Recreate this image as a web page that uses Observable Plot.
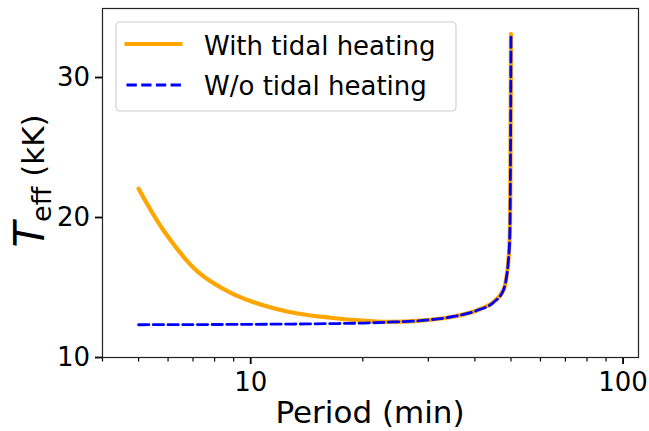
<!DOCTYPE html>
<html>
<head>
<meta charset="utf-8">
<script src="https://cdn.jsdelivr.net/npm/d3@7"></script>
<script src="https://cdn.jsdelivr.net/npm/@observablehq/plot@0.6"></script>
<style>
  html, body { margin: 0; padding: 0; background: white; }
  #chart { width: 649px; height: 431px; }
</style>
</head>
<body>
<div id="chart"></div>
<script>
// Period (min) and effective temperature (kK)
const periodWith = [5.0, 5.86, 7.19, 8.84, 10.86, 13.35, 16.39, 19.5, 23.3, 28.6, 35.1, 40.5, 44.9, 47.7, 48.6, 49.2, 49.6, 49.8, 49.9, 50.0];
const teffWith   = [22.05, 19.0, 16.15, 14.62, 13.71, 13.14, 12.84, 12.66, 12.55, 12.64, 12.93, 13.36, 13.95, 14.8, 15.7, 16.9, 18.5, 22.0, 27.0, 33.1];
const periodWithout = [5.0, 7.0, 10.0, 13.0, 16.4, 20.0, 23.3, 28.6, 35.1, 40.5, 44.9, 47.7, 48.6, 49.2, 49.6, 49.8, 49.9, 50.0];
const teffWithout   = [12.34, 12.35, 12.37, 12.39, 12.42, 12.46, 12.52, 12.64, 12.93, 13.36, 13.95, 14.8, 15.7, 16.9, 18.5, 22.0, 27.0, 33.1];
const seriesNames = ["With tidal heating", "W/o tidal heating"];
const xMajorTicks = [10, 100];
const xMinorTicks = [4, 5, 6, 7, 8, 9, 20, 30, 40, 50, 60, 70, 80, 90];
const yTicks = [10, 20, 30];

const withData = periodWith.map((p, i) => ({p, t: teffWith[i]}));
const withoutData = periodWithout.map((p, i) => ({p, t: teffWithout[i]}));

const chart = Plot.plot({
  width: 649,
  height: 431,
  marginLeft: 102,
  marginRight: 11,
  marginTop: 8,
  marginBottom: 74,
  style: {fontFamily: "DejaVu Sans", fontSize: "26px", color: "black", background: "white", overflow: "visible"},
  x: {type: "log", domain: [4, 110]},
  y: {domain: [10, 34.93]},
  marks: [
    Plot.axisX({ticks: xMinorTicks, tickSize: 4.5, tickFormat: () => "", strokeWidth: 1.2, label: null}),
    Plot.axisX({ticks: xMajorTicks, tickSize: 7, tickPadding: 8, strokeWidth: 1.8, tickFormat: d => String(d), label: null, fontSize: 26}),
    Plot.axisY({ticks: yTicks, tickSize: 7, tickPadding: 5.5, strokeWidth: 1.8, label: null, fontSize: 26}),
    Plot.line(withData, {x: "p", y: "t", stroke: "orange", strokeWidth: 4.2, curve: "catmull-rom"}),
    Plot.line(withoutData, {x: "p", y: "t", stroke: "blue", strokeWidth: 2.8, strokeDasharray: "10.3,4.4", curve: "monotone-x"}),
    Plot.frame({stroke: "#222", strokeWidth: 1.2})
  ]
});
document.getElementById("chart").appendChild(chart);

const svg = d3.select(chart);
// x label
svg.append("text")
  .attr("x", 370).attr("y", 423)
  .attr("text-anchor", "middle")
  .attr("font-family", "DejaVu Sans").attr("font-size", 31).attr("fill", "black")
  .text("Period (min)");
// y label
const yl = svg.append("text")
  .attr("transform", "translate(44,181) rotate(-90)")
  .attr("text-anchor", "middle")
  .attr("font-family", "DejaVu Sans").attr("font-size", 31).attr("fill", "black");
yl.append("tspan").attr("font-style", "italic").attr("font-size", 42).text("T");
yl.append("tspan").attr("font-size", 27).attr("dy", 7).text("eff");
yl.append("tspan").attr("dy", -7).text("\u00a0(kK)");

// legend
const lg = svg.append("g").attr("text-anchor", "start");
lg.append("rect").attr("x", 116).attr("y", 22).attr("width", 340).attr("height", 89).attr("rx", 4)
  .attr("fill", "white").attr("fill-opacity", 0.8).attr("stroke", "#cccccc").attr("stroke-width", 1.1);
lg.append("line").attr("x1", 124.5).attr("x2", 182.5).attr("y1", 44).attr("y2", 44)
  .attr("stroke", "orange").attr("stroke-width", 4.2);
lg.append("line").attr("x1", 126.5).attr("x2", 181).attr("y1", 85).attr("y2", 85)
  .attr("stroke", "blue").attr("stroke-width", 2.8).attr("stroke-dasharray", "10.3,4.4");
lg.append("text").attr("x", 204).attr("y", 55).attr("text-anchor", "start").attr("font-family", "DejaVu Sans").attr("font-size", 26).attr("fill", "black").text(seriesNames[0]);
lg.append("text").attr("x", 204).attr("y", 95).attr("text-anchor", "start").attr("font-family", "DejaVu Sans").attr("font-size", 26).attr("fill", "black").text(seriesNames[1]);
</script>
</body>
</html>
